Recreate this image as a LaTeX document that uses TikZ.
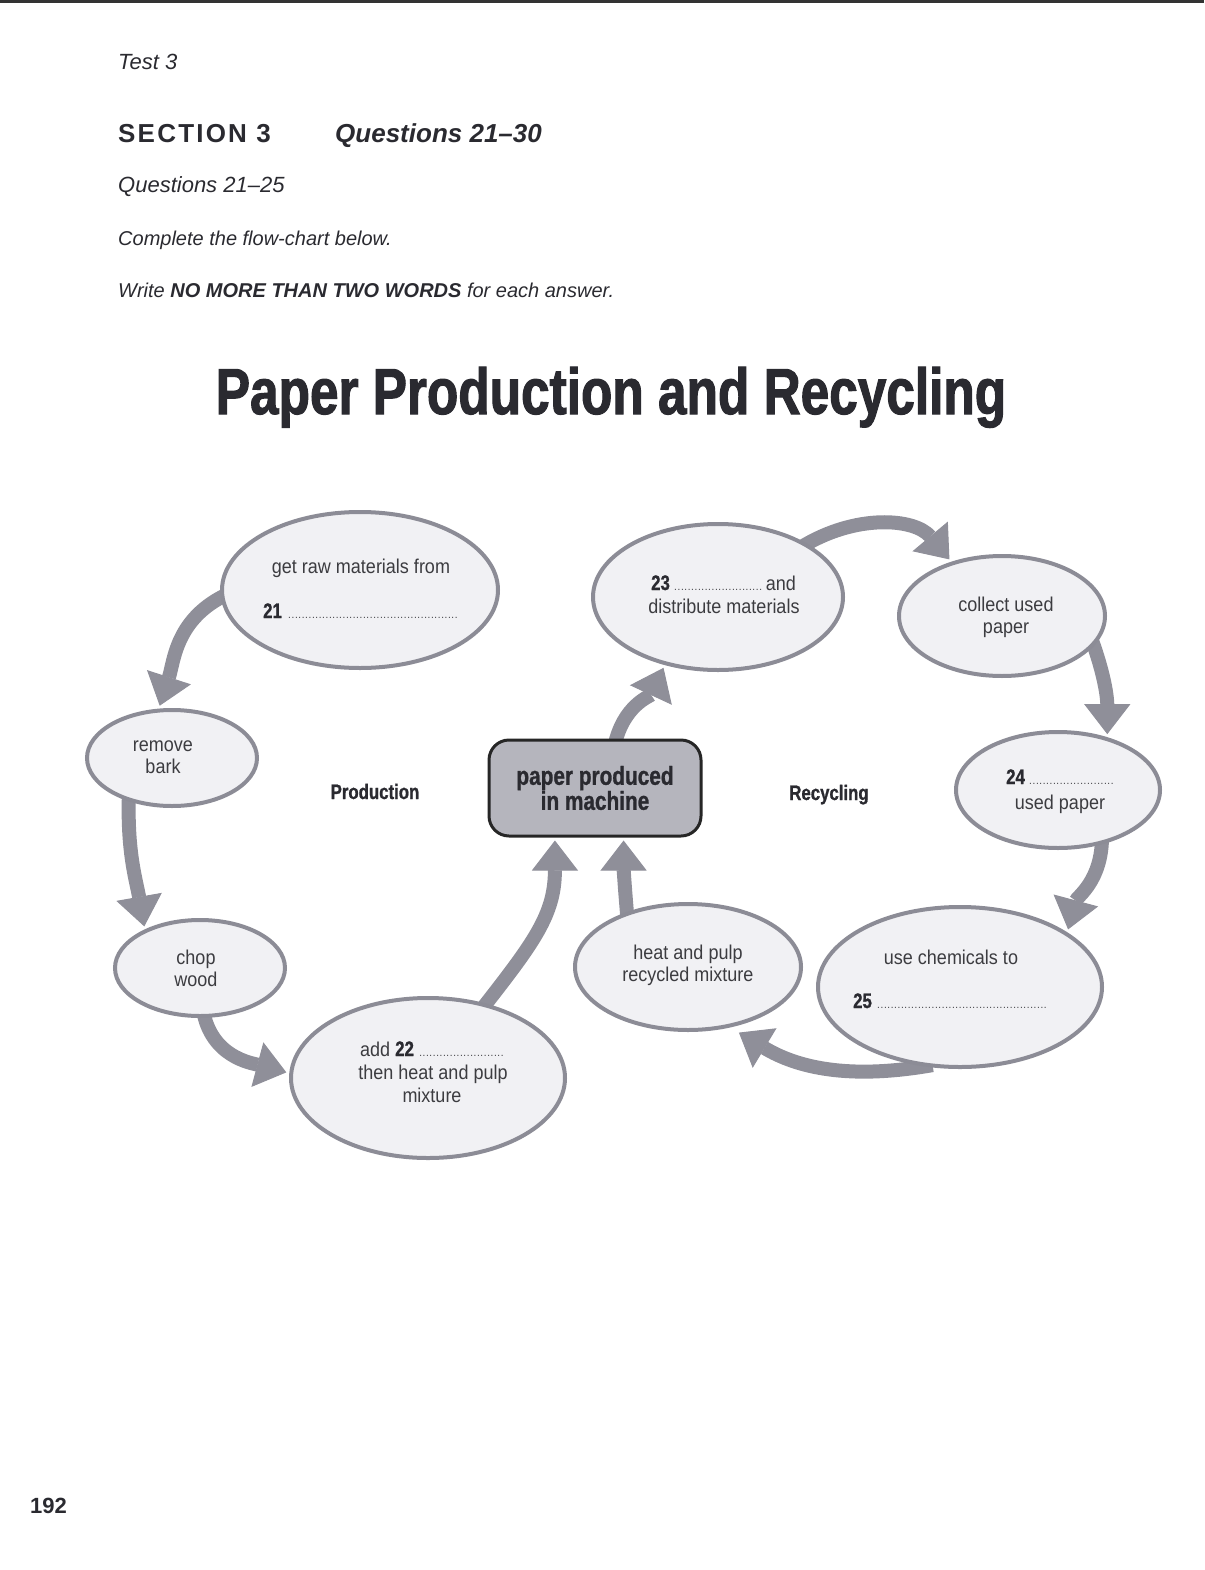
\documentclass[tikz,border=0pt]{standalone}
\usepackage{fontspec}
\setmainfont{Liberation Sans}
\newfontfamily\condf[FakeStretch=0.8,FakeBold=1]{Liberation Sans}
\newfontfamily\titlef[FakeStretch=0.79,FakeBold=1.6]{Liberation Sans}
\newfontfamily\ellf[FakeStretch=0.9]{Liberation Sans}
\usetikzlibrary{shapes.geometric,arrows.meta,calc}
\definecolor{ellfill}{HTML}{F1F1F4}
\definecolor{ellline}{HTML}{8C8C96}
\definecolor{arr}{HTML}{8F8F99}
\definecolor{boxfill}{HTML}{B5B5BD}
\definecolor{txt}{HTML}{2A2A30}
\definecolor{elltxt}{HTML}{3C3C40}
\pgfdeclarelayer{bg}\pgfsetlayers{bg,main}
\newcommand{\dline}[1]{{\fontsize{11}{11}\selectfont\hbox to #1{\leaders\hbox to 3.4pt{\hss.\hss}\hfill}}}
\newcommand{\fs}[2]{\fontsize{#1}{#2}\selectfont}
\newcommand{\qn}[1]{{\condf\bfseries\color{txt}\fs{21}{23}#1}}
\begin{document}
\begin{tikzpicture}[x=1pt,y=1pt,
  bubble/.style={ellipse,draw=ellline,fill=ellfill,line width=4pt,inner sep=0pt},
  etext/.style={text=elltxt,font=\ellf\fs{20}{23},inner sep=0pt},
  hdr/.style={text=txt,inner sep=0pt,anchor=base west},
  lbl/.style={text=txt,font=\condf\bfseries\fs{21}{24},inner sep=0pt,anchor=base},
  flow/.style={draw=arr,line width=14pt,-{Triangle[width=46pt,length=30pt,line width=1pt]},shorten >=3pt,shorten <=-8pt},
  mainbox/.style={rectangle,rounded corners=20pt,minimum width=212pt,minimum height=96pt,draw=black!85,line width=3pt,fill=boxfill,font=\condf\bfseries\fs{26}{25},align=center,text=txt,inner sep=0pt}]
\useasboundingbox (0,0) rectangle (1204,-1570);
\fill[black!80] (0,0) rectangle (1204,-3);

% header
\node[hdr,font=\itshape\fs{22}{26}] (test) at (118,-70) {Test 3};
\node[hdr,font=\bfseries\addfontfeature{LetterSpace=8.5}\fs{26}{30}] (sec) at (118,-143) {SECTION 3};
\node[hdr,font=\bfseries\itshape\fs{26}{30}] (q2130) at (335,-143) {Questions 21–30};
\node[hdr,font=\itshape\fs{22}{26}] (q2125) at (118,-193) {Questions 21–25};
\node[hdr,font=\itshape\fs{20}{24}] (compl) at (118,-246) {Complete the flow-chart below.};
\node[hdr,font=\itshape\fs{20}{24}] (write) at (118,-297) {Write \textbf{\textit{NO MORE THAN TWO WORDS}} for each answer.};
\node[text=txt,inner sep=0pt,anchor=base,font=\titlef\bfseries\fs{65}{70}] (title) at (611,-414) {Paper Production and Recycling};
\node[hdr,font=\bfseries\fs{22}{26}] (page) at (30,-1513) {192};

% bubbles
\node[bubble,minimum width=276pt,minimum height=156pt] (raw) at (360,-590) {};
\node[bubble,minimum width=170pt,minimum height=96pt] (bark) at (172,-758) {};
\node[bubble,minimum width=170pt,minimum height=96pt] (chop) at (200,-968) {};
\node[bubble,minimum width=274pt,minimum height=160pt] (add) at (428,-1078) {};
\node[bubble,minimum width=226pt,minimum height=126pt] (heat) at (688,-967) {};
\node[bubble,minimum width=284pt,minimum height=160pt] (chem) at (960,-987) {};
\node[bubble,minimum width=204pt,minimum height=116pt] (e24) at (1058,-790) {};
\node[bubble,minimum width=206pt,minimum height=120pt] (coll) at (1002,-616) {};
\node[bubble,minimum width=250pt,minimum height=146pt] (e23) at (718,-597) {};
\node[mainbox] (box) at (595,-788) {paper produced\\in machine};

% labels
\node[lbl] (prod) at (375,-799) {Production};
\node[lbl] (recy) at (829,-800) {Recycling};

% bubble texts
\node[etext,anchor=base] (t1a) at (361,-573) {get raw materials from};
\node[etext,anchor=base west] (t1b) at (263,-618) {\qn{21}\hspace{6pt}\dline{170pt}};
\node[etext,anchor=base] (t2a) at (163,-751) {remove};
\node[etext,anchor=base] (t2b) at (163,-773) {bark};
\node[etext,anchor=base] (t3a) at (196,-964) {chop};
\node[etext,anchor=base] (t3b) at (196,-986) {wood};
\node[etext,anchor=base west] (t4a) at (360,-1056) {add \qn{22}\hspace{5pt}\dline{87pt}};
\node[etext,anchor=base] (t4b) at (433,-1079) {then heat and pulp};
\node[etext,anchor=base] (t4c) at (432,-1102) {mixture};
\node[etext,anchor=base] (t5a) at (688,-959) {heat and pulp};
\node[etext,anchor=base] (t5b) at (688,-981) {recycled mixture};
\node[etext,anchor=base] (t6a) at (951,-964) {use chemicals to};
\node[etext,anchor=base west] (t6b) at (853,-1008) {\qn{25}\hspace{5pt}\dline{173pt}};
\node[etext,anchor=base west] (t7a) at (1006,-784) {\qn{24}\hspace{4pt}\dline{87pt}};
\node[etext,anchor=base] (t7b) at (1060,-809) {used paper};
\node[etext,anchor=base] (t8a) at (1006,-611) {collect used};
\node[etext,anchor=base] (t8b) at (1006,-633) {paper};
\node[etext,anchor=base west] (t9a) at (651,-590) {\qn{23}\hspace{4pt}\dline{89pt}\hspace{3pt}and};
\node[etext,anchor=base] (t9b) at (724,-613) {distribute materials};

% arrows
\begin{pgfonlayer}{bg}
\draw[flow] (raw.183) to[out=205,in=72] (bark.105);
\draw[flow] (bark.225) to[out=268,in=100] (chop.145);
\draw[flow] (chop.275) to[out=280,in=165] (add.178);
\draw[flow] (add.52) to[out=52,in=270,looseness=1.1] (box.231);
\draw[flow] (heat.138) to[out=95,in=270] (box.300);
\draw[flow] (box.67) to[out=78,in=245] (e23.232);
\draw[flow] (e23.31) to[out=32,in=130] (coll.133);
\draw[flow] (coll.-18) to[out=-70,in=90] (e24.47);
\draw[flow] (e24.-51) to[out=-90,in=75] (chem.27);
\draw[flow,shorten >=10pt] (chem.246) to[out=190,in=-31] (heat.-55);
\end{pgfonlayer}
\end{tikzpicture}
\end{document}
